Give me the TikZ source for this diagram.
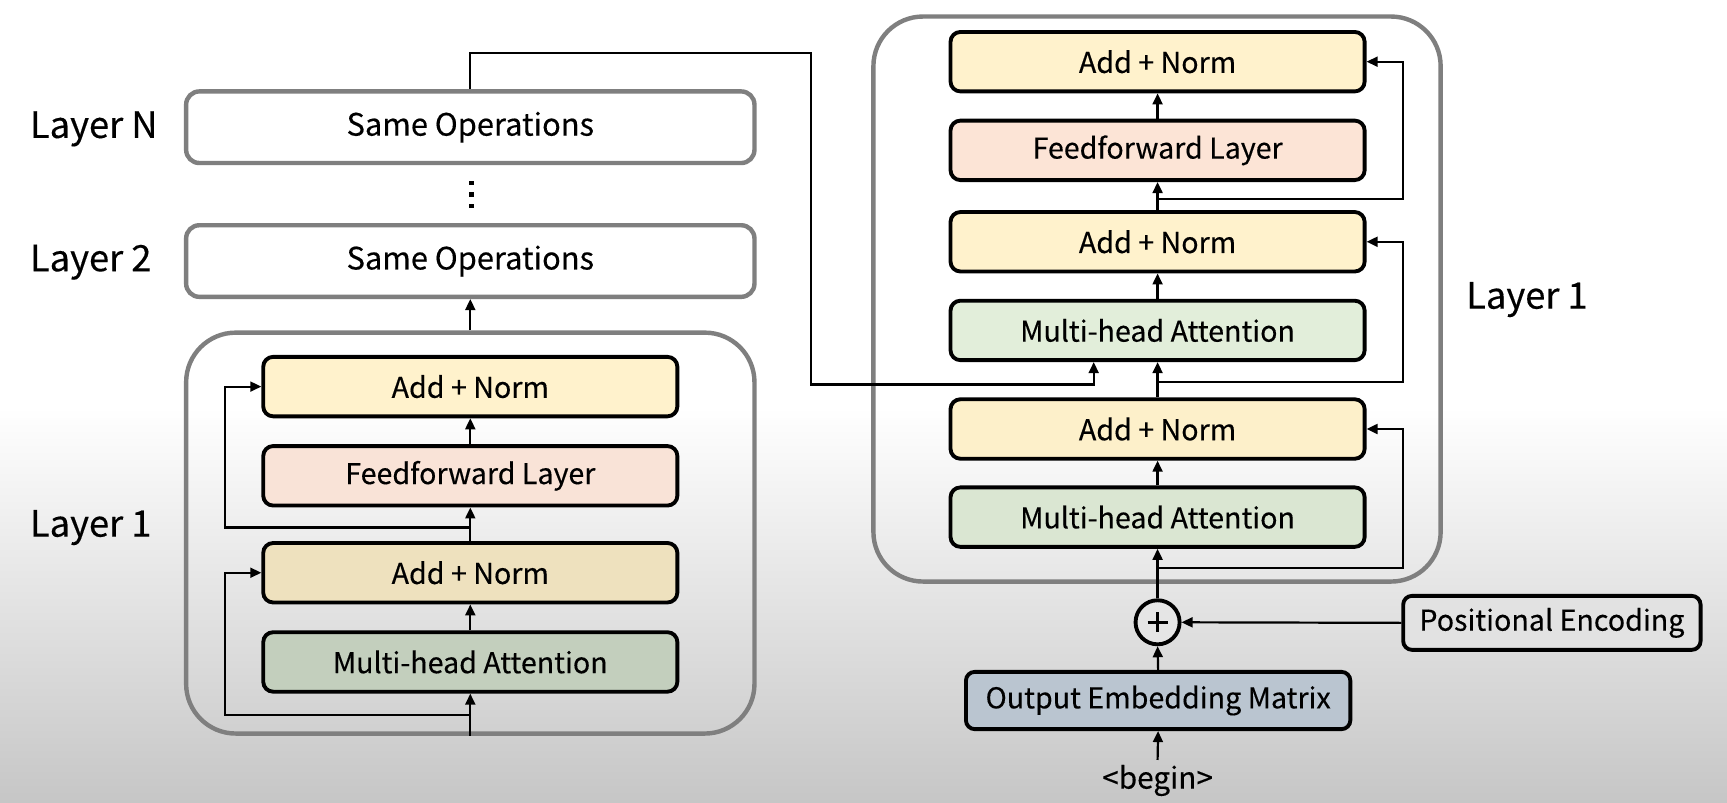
\documentclass[tikz,border=0pt]{standalone}
\usepackage{fontspec}
\setmainfont[FakeBold=0.3]{Noto Sans CJK KR}
\usetikzlibrary{arrows.meta,calc,positioning}
\definecolor{anY}{HTML}{FFF2CC}
\definecolor{anY2}{HTML}{FDF0CA}
\definecolor{anT}{HTML}{EEE1BE}
\definecolor{ffP}{HTML}{FCE4D6}
\definecolor{ffP2}{HTML}{F9E3D7}
\definecolor{mhG}{HTML}{E2EEDA}
\definecolor{mhG2}{HTML}{DAE6D2}
\definecolor{mhG3}{HTML}{C3CFBD}
\definecolor{oem}{HTML}{BAC5D0}
\definecolor{peG}{HTML}{E2E2E2}
\definecolor{grayline}{HTML}{7F7F7F}
\definecolor{bgbot}{HTML}{C6C6C6}
\tikzset{
  blk/.style={draw=black, line width=3.5pt, rounded corners=9pt, minimum width=376pt,
    minimum height=54pt, inner sep=0pt, font=\fontsize{26}{30}\selectfont, text=black},
  outerbox/.style={draw=grayline, line width=4pt, rounded corners=45pt, inner sep=0pt},
  samebox/.style={draw=grayline, line width=4pt, rounded corners=12pt, fill=white,
    minimum width=516pt, minimum height=65pt, inner sep=0pt, font=\fontsize{28}{32}\selectfont},
  lbl/.style={font=\fontsize{33}{36}\selectfont, inner sep=0pt, anchor=west},
  ln/.style={line width=2pt, draw=black},
  arr/.style={line width=2pt, draw=black, -{Triangle[length=10pt,width=9pt]}},
}
\begin{document}
\begin{tikzpicture}[x=1pt,y=-1pt]
\useasboundingbox (0,0) rectangle (1568,729);
% background
\fill[white] (0,0) rectangle (1568,729);
\shade[top color=white, bottom color=bgbot] (0,370) rectangle (1568,729);

% ---------------- Encoder ----------------
\node[samebox] (lnN) at (427,115.5) {Same Operations};
\node[samebox] (ln2) at (427,237) {Same Operations};
\foreach \yy in {166,176.5,187} \fill[black] (426,\yy-2) rectangle (430,\yy+2);
\node[lbl] (labN) at (27,117) {Layer N};
\node[lbl] (lab2) at (27,238) {Layer 2};
\node[lbl] (lab1) at (27,479) {Layer 1};

\node[outerbox, minimum width=516pt, minimum height=364pt] (enc) at (427,484) {};
\node[blk, fill=anY] (ean1) at (427,351) {Add + Norm};
\node[blk, fill=ffP2] (eff) at (427,432) {Feedforward Layer};
\node[blk, fill=anT] (ean2) at (427,520) {Add + Norm};
\node[blk, fill=mhG3] (emha) at (427,601) {Multi-head Attention};

\coordinate (er1) at (427,649);
\coordinate (er1c) at (204,649);
\coordinate (er2) at (427,479);
\coordinate (er2c) at (204,479);

\draw[arr] (enc.south) -- (emha.south);
\draw[arr] (er1) -- (er1c) |- (ean2.west);
\draw[arr] (emha.north) -- (ean2.south);
\draw[arr] (ean2.north) -- (eff.south);
\draw[arr] (er2) -- (er2c) |- (ean1.west);
\draw[arr] (eff.north) -- (ean1.south);
\draw[arr] (enc.north) -- (ln2.south);

% ---------------- Decoder ----------------
\node[outerbox, minimum width=515pt, minimum height=513pt] (dec) at (1050.5,271.5) {};
\node[lbl] (labD) at (1331,272) {Layer 1};
\node[blk, fill=anY] (dan3) at (1051,56) {Add + Norm};
\node[blk, fill=ffP] (dff) at (1051,136.5) {Feedforward Layer};
\node[blk, fill=anY] (dan2) at (1051,219.5) {Add + Norm};
\node[blk, fill=mhG] (dmha2) at (1051,300) {Multi-head Attention};
\node[blk, fill=anY2] (dan1) at (1051,389.5) {Add + Norm};
\node[blk, fill=mhG2] (dmha1) at (1051,469.5) {Multi-head Attention};

\node[draw=black, line width=3.5pt, circle, minimum size=40pt, inner sep=0pt, fill=peG!90!white] (plus) at (1051,565) {};
\draw[line width=2.6pt] ($(plus.center)+(-9,0)$) -- ($(plus.center)+(9,0)$)
  ($(plus.center)+(0,-9)$) -- ($(plus.center)+(0,9)$);
\node[blk, fill=peG, minimum width=270pt, minimum height=49pt, rounded corners=8pt] (pe) at (1409,565.5) {Positional Encoding};
\node[blk, fill=oem, minimum width=349pt, minimum height=52pt, rounded corners=8pt] (oemb) at (1051.5,636) {Output Embedding Matrix};
\node[font=\fontsize{27}{30}\selectfont, inner sep=0pt, anchor=base] (begin) at (1051,716) {<begin>};

\coordinate (bgtop) at (1051,690);
\draw[arr] (bgtop) -- (oemb.south);
\draw[arr] (oemb.north) -- (plus.south);
\draw[arr] (pe.west) -- (plus.east);
\draw[arr] (plus.north) -- (dmha1.south);

\coordinate (dr1) at (1051,516);
\coordinate (dr1c) at (1274,516);
\coordinate (dr2) at (1051,347);
\coordinate (dr2c) at (1274,347);
\coordinate (dr3) at (1051,181);
\coordinate (dr3c) at (1274,181);

\draw[arr] (dr1) -- (dr1c) |- (dan1.east);
\draw[arr] (dmha1.north) -- (dan1.south);
\draw[arr] (dan1.north) -- (dmha2.south);
\draw[arr] (dr2) -- (dr2c) |- (dan2.east);
\draw[arr] (dmha2.north) -- (dan2.south);
\draw[arr] (dan2.north) -- (dff.south);
\draw[arr] (dr3) -- (dr3c) |- (dan3.east);
\draw[arr] (dff.north) -- (dan3.south);

% cross connection from encoder
\coordinate (cx1) at (736,48);
\coordinate (cx2) at (736,349);
\coordinate (cross) at ($(dmha2.south)+(-58,0)$);
\draw[arr] (lnN.north) |- (cx1) -- (cx2) -| (cross);
\end{tikzpicture}
\end{document}
